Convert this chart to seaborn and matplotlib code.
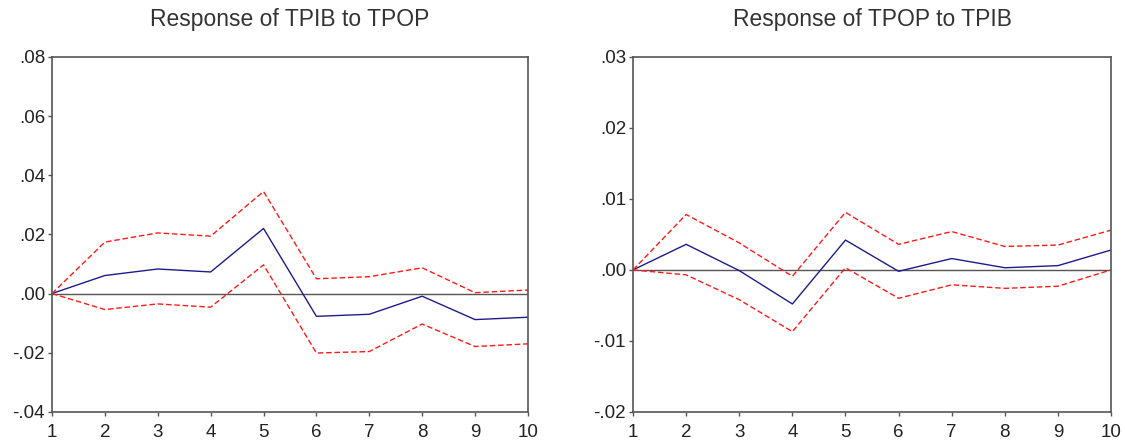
# Impulse responses with +/- 2 S.E. bands
import pandas as pd
import matplotlib
matplotlib.use("Agg")
import matplotlib.pyplot as plt
import seaborn as sns
from matplotlib.ticker import FuncFormatter

periods = list(range(1, 11))

# Response of TPIB to TPOP
tpib_resp = [0.0, 0.0061, 0.0083, 0.0073, 0.0220, -0.0077, -0.0070, -0.0009, -0.0088, -0.0080]
tpib_upper = [0.0, 0.0174, 0.0205, 0.0194, 0.0345, 0.0050, 0.0057, 0.0087, 0.0003, 0.0012]
tpib_lower = [0.0, -0.0054, -0.0035, -0.0046, 0.0097, -0.0201, -0.0196, -0.0103, -0.0179, -0.0170]

# Response of TPOP to TPIB
tpop_resp = [0.0, 0.0036, -0.0001, -0.0048, 0.0042, -0.0002, 0.0016, 0.0003, 0.0006, 0.0028]
tpop_upper = [0.0, 0.0078, 0.0038, -0.0009, 0.0081, 0.0036, 0.0054, 0.0033, 0.0035, 0.0056]
tpop_lower = [0.0, -0.0007, -0.0042, -0.0087, 0.0003, -0.0040, -0.0021, -0.0026, -0.0023, 0.0000]

sns.set_style("white")
plt.rcParams['font.family'] = ['Liberation Sans', 'DejaVu Sans']

fig = plt.figure(figsize=(11.25, 4.41), dpi=100)
ax1 = fig.add_axes([0.0462, 0.066, 0.4231, 0.805])
ax2 = fig.add_axes([0.5627, 0.066, 0.4249, 0.805])


def fmt(v, pos):
    s = f"{v:.2f}"
    return s.replace("0.", ".", 1)


def draw(ax, resp, upper, lower, title, ylim, step):
    df = pd.DataFrame({'period': periods, 'resp': resp, 'upper': upper, 'lower': lower})
    ax.axhline(0, color='#555555', lw=1.0, zorder=1)
    sns.lineplot(data=df, x='period', y='resp', ax=ax, color='#1c1c8c', lw=1.0)
    sns.lineplot(data=df, x='period', y='upper', ax=ax, color='#ff1a1a', lw=1.0, linestyle=(0, (4, 2)))
    sns.lineplot(data=df, x='period', y='lower', ax=ax, color='#ff1a1a', lw=1.0, linestyle=(0, (4, 2)))
    ax.set_xlim(1, 10)
    ax.set_ylim(*ylim)
    ax.set_xticks(periods)
    yt = []
    v = ylim[0]
    while v <= ylim[1] + 1e-9:
        yt.append(round(v, 4))
        v += step
    ax.set_yticks(yt)
    ax.yaxis.set_major_formatter(FuncFormatter(fmt))
    ax.set_xlabel('')
    ax.set_ylabel('')
    ax.set_title(title, fontsize=16.5, color='#333333', pad=22)
    for s in ax.spines.values():
        s.set_color('#555555')
        s.set_linewidth(1.2)
    ax.tick_params(axis='both', which='major', direction='out', length=3, width=1,
                   color='#555555', labelsize=13.5, labelcolor='#222222',
                   left=True, bottom=True)
    ax.tick_params(axis='y', pad=2)
    ax.tick_params(axis='x', pad=5.5)


draw(ax1, tpib_resp, tpib_upper, tpib_lower, 'Response of TPIB to TPOP', (-0.04, 0.08), 0.02)
draw(ax2, tpop_resp, tpop_upper, tpop_lower, 'Response of TPOP to TPIB', (-0.02, 0.03), 0.01)

fig.savefig('out.png', dpi=100)
